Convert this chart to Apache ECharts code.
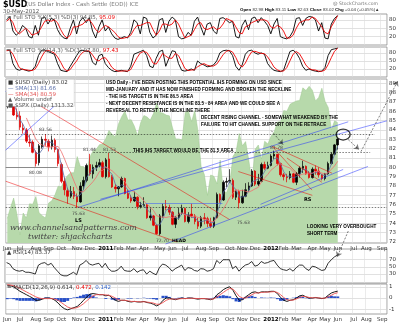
<!DOCTYPE html>
<html><head><meta charset="utf-8">
<script src="https://cdn.jsdelivr.net/npm/echarts@6/dist/echarts.min.js"></script>
<style>html,body{margin:0;padding:0;background:#fff}#c{width:400px;height:323px}</style>
</head><body><div id="c"></div>
<script>
// ---------- DATA (weekly, from week ending 2010-06-04) ----------
const usdOpen = [86.5,88.0,86.9,85.6,85.5,84.2,84.0,82.7,82.7,81.6,80.5,82.2,83.0,82.8,82.2,82.9,81.9,80.3,78.5,77.5,76.9,77.4,76.9,76.3,78.0,78.6,80.3,79.3,80.0,80.2,80.5,79.0,80.9,79.0,77.9,77.7,77.9,78.8,77.2,76.7,76.4,76.8,75.8,75.9,76.0,74.6,74.8,73.8,72.9,74.8,75.8,75.7,75.2,73.9,74.6,75.1,75.6,74.2,75.0,74.8,74.2,73.7,74.6,74.5,74.0,73.7,74.6,77.1,76.5,78.4,78.5,78.6,76.8,77.4,76.2,76.9,77.6,78.0,79.6,78.2,78.5,80.3,79.9,80.2,81.2,81.4,80.4,79.2,79.0,78.9,79.3,78.4,79.3,79.9,80.1,79.3,78.9,79.8,79.6,79.2,78.8,79.3,80.4,81.4,82.4];
const usdClose = [88.0,86.9,85.6,85.4,84.3,84.0,82.8,82.6,81.6,80.4,82.3,83.0,82.9,82.2,82.9,81.9,80.4,78.5,77.6,76.9,77.4,76.9,76.3,78.0,78.6,80.2,79.3,80.0,80.2,80.5,79.0,80.8,79.0,77.9,77.7,77.9,78.8,77.2,76.7,76.4,76.8,75.8,75.9,76.0,74.6,74.8,73.8,72.9,74.8,75.8,75.7,75.2,73.9,74.6,75.1,75.6,74.2,74.9,74.8,74.2,73.7,74.6,74.5,74.0,73.7,74.6,77.1,76.5,78.4,78.5,78.6,76.8,77.4,76.2,76.9,77.6,78.0,79.6,78.2,78.5,80.3,79.9,80.2,81.2,81.4,80.4,79.2,79.0,78.9,79.3,78.4,79.3,79.9,80.1,79.3,78.9,79.8,79.6,79.2,78.8,79.3,80.4,81.4,82.4,83.02];
const usdLow = [86.3,86.8,85.5,85.1,84.0,83.6,82.6,82.2,81.5,80.08,80.2,82.0,82.3,81.7,81.9,81.6,80.1,78.3,77.0,76.1,76.7,76.6,75.63,76.2,77.6,78.4,79.1,78.8,79.6,80.0,78.9,78.8,78.9,77.8,77.3,76.9,77.8,77.1,76.6,76.2,76.3,75.5,75.6,75.8,74.5,74.3,73.7,72.8,72.7,74.6,75.4,74.9,73.8,73.5,74.4,74.9,74.1,74.0,74.6,73.9,73.4,73.5,73.9,73.6,73.5,73.5,74.5,76.2,76.4,77.9,78.3,76.6,76.5,75.6,76.1,76.8,77.4,77.9,78.0,78.0,78.4,79.7,79.8,80.1,80.9,80.2,79.0,78.6,78.4,78.7,78.3,78.1,78.9,79.4,79.2,78.8,78.8,79.2,78.9,78.6,78.6,79.2,80.3,81.3,81.9];
const usdHigh = [88.2,88.7,87.3,86.3,86.0,84.7,84.2,83.5,82.9,81.8,82.5,83.3,83.56,83.0,83.4,83.1,82.0,80.5,78.9,77.8,78.0,77.9,77.2,78.4,79.0,80.4,81.44,80.3,80.6,80.9,80.7,81.0,81.53,79.2,78.2,78.0,79.0,78.9,77.6,77.0,77.4,76.9,76.3,76.8,76.1,75.6,74.9,73.9,75.0,76.1,76.5,76.0,75.3,74.8,75.7,76.0,75.7,75.2,76.1,75.0,74.6,74.8,75.1,74.7,74.6,74.7,77.3,77.2,78.6,78.9,79.8,78.8,77.6,77.6,77.6,78.3,78.4,79.8,79.7,79.3,80.5,80.6,80.6,81.4,81.78,81.4,80.5,79.4,79.3,79.6,79.4,79.5,80.1,80.7,80.2,79.6,80.0,80.2,80.0,79.3,79.4,80.6,81.6,82.5,83.11];
const spxClose = [1064,1092,1117,1076,1022,1078,1065,1102,1101,1121,1079,1071,1065,1104,1110,1125,1148,1146,1165,1176,1183,1183,1225,1199,1199,1189,1224,1240,1244,1256,1258,1272,1293,1283,1276,1310,1329,1343,1320,1321,1304,1279,1314,1332,1328,1320,1337,1364,1340,1338,1333,1331,1300,1271,1271,1268,1340,1344,1316,1345,1292,1199,1179,1124,1177,1174,1154,1216,1136,1131,1155,1225,1238,1285,1253,1264,1216,1159,1244,1255,1219,1265,1258,1278,1289,1315,1316,1345,1343,1361,1366,1370,1371,1404,1397,1408,1398,1370,1379,1403,1369,1353,1295,1318,1313];
const sto1K = [80,92,40,25,35,60,50,20,15,60,25,85,90,65,85,80,45,25,15,12,50,80,30,75,88,70,88,40,15,55,80,40,55,30,15,10,15,20,15,35,80,70,30,90,85,35,15,25,80,85,35,75,90,80,20,12,15,35,25,75,90,55,25,65,70,40,30,85,88,80,70,75,20,15,60,80,45,85,90,70,88,75,60,30,65,85,20,15,12,20,40,85,88,60,85,92,90,80,40,70,15,12,65,85,94.85];
const sto1D = [75,85,70,40,30,40,50,40,25,30,35,55,75,80,75,80,70,45,25,15,25,55,55,60,65,78,80,65,45,35,50,60,55,45,35,20,13,15,18,25,45,60,60,65,70,70,45,25,40,65,65,60,65,80,65,40,15,20,25,45,65,70,50,45,50,55,45,50,65,85,80,75,55,35,30,55,60,70,75,80,80,80,75,55,50,60,55,40,15,15,25,50,70,75,80,80,90,85,70,55,35,30,55,75,95.09];
const sto2K = [91,90,40,20,15,20,15,12,15,30,70,90,91,85,80,75,40,15,12,10,30,50,70,88,90,85,85,45,35,70,75,40,25,15,10,12,15,12,10,30,75,80,85,90,70,30,25,60,85,90,30,60,88,85,40,15,12,15,20,15,50,40,35,28,30,35,50,80,88,90,88,70,30,15,35,75,88,90,80,75,80,75,40,25,15,12,10,15,50,85,90,80,60,30,15,20,15,12,10,12,25,70,92,95,97.8];
const sto2D = [88,90,75,50,25,18,17,15,14,20,40,65,85,90,85,80,65,45,22,12,18,35,50,70,83,88,87,72,55,50,60,62,47,27,17,12,12,13,12,18,40,62,80,85,82,65,42,38,57,78,68,60,60,78,70,47,22,14,16,17,28,35,40,34,31,31,38,55,73,86,89,83,63,38,27,42,66,84,86,82,78,77,65,47,27,17,12,12,25,50,75,85,77,57,35,22,17,16,12,11,16,36,62,86,97.43];
const rsi14 = [62,58,45,40,38,40,35,35,33,30,55,60,62,55,60,48,38,28,25,25,30,35,28,55,60,68,58,55,58,60,48,60,45,38,38,42,52,40,38,38,45,35,40,42,30,38,32,28,48,58,55,48,38,45,50,55,40,48,46,40,38,45,44,38,40,45,68,60,70,70,70,45,52,38,48,55,58,65,52,55,65,60,62,66,68,55,45,42,40,45,38,48,55,55,45,40,52,50,45,40,42,60,70,78,83.37];
const macdLine = [1.1,1.1,1.0,0.8,0.6,0.45,0.3,0.15,0.0,-0.2,-0.2,-0.1,0.0,0.0,-0.05,-0.2,-0.45,-0.75,-0.95,-1.05,-0.95,-0.85,-0.75,-0.5,-0.2,0.1,0.35,0.4,0.35,0.3,0.3,0.2,0.25,0.0,-0.2,-0.3,-0.2,-0.2,-0.3,-0.35,-0.3,-0.35,-0.35,-0.3,-0.4,-0.45,-0.55,-0.7,-0.55,-0.2,0.0,0.0,-0.1,-0.15,-0.05,0.0,-0.05,0.0,0.0,-0.05,-0.1,-0.05,-0.05,-0.1,-0.15,-0.05,0.3,0.5,0.75,0.9,1.0,0.7,0.2,-0.2,-0.15,0.1,0.3,0.5,0.55,0.45,0.55,0.55,0.55,0.6,0.6,0.4,0.05,-0.2,-0.3,-0.2,-0.15,0.0,0.2,0.25,0.1,0.0,0.0,0.05,0.0,-0.05,0.0,0.25,0.45,0.55,0.614];
const macdSignal = [1.2,1.15,1.1,1.0,0.85,0.7,0.55,0.4,0.25,0.1,0.0,-0.05,-0.05,-0.05,-0.05,-0.1,-0.2,-0.4,-0.6,-0.8,-0.9,-0.9,-0.85,-0.7,-0.5,-0.25,0.0,0.2,0.3,0.3,0.3,0.28,0.25,0.15,0.0,-0.15,-0.2,-0.2,-0.25,-0.3,-0.3,-0.32,-0.34,-0.33,-0.36,-0.4,-0.45,-0.55,-0.55,-0.4,-0.2,-0.1,-0.08,-0.1,-0.08,-0.05,-0.05,-0.03,-0.02,-0.03,-0.05,-0.05,-0.05,-0.07,-0.1,-0.08,0.1,0.3,0.5,0.7,0.85,0.8,0.5,0.15,0.0,0.0,0.15,0.3,0.45,0.45,0.5,0.52,0.53,0.55,0.57,0.5,0.3,0.05,-0.15,-0.2,-0.18,-0.08,0.05,0.15,0.12,0.05,0.02,0.03,0.01,-0.02,-0.01,0.1,0.25,0.4,0.472];
const priceTicks = [72,73,74,75,76,77,78,79,80,81,82,83,84,85,86,87,88,89];
const stoTicks = [20,50,80];
const rsiTicks = [30,50,70];
const macdTicks = [-1,0,1];
const monthNames = ['Jan','Feb','Mar','Apr','May','Jun','Jul','Aug','Sep','Oct','Nov','Dec'];
// trend lines in (week index, price)
const redLines = [[2.0,88.28,70.0,74.4],[-0.5,78.51,53.5,72.0],[83.4,82.24,102.2,79.37],[83.4,82.24,95.9,77.56],[72.7,79.55,96.0,77.0],[88.0,81.0,99.0,78.4]];
const blueLines = [[-0.5,81.84,15.2,86.68],[-0.5,88.07,1.4,88.92],[22.4,75.72,107.3,84.87],[29.3,76.58,119.5,84.98],[49.8,71.79,113.5,80.09],[79.7,76.04,105.7,79.77]];
const blueHoriz = [[43.5,67.7,76.15]];
const blackHoriz = [[-0.5,15.8,79.98]];
const dottedHoriz = [[-0.5,115.7,83.54],[27.1,114.2,81.58],[-0.5,119.5,75.72]];
const arrows = [[107.3,82.96,110.7,81.9],[111.3,81.68,122.9,89.24],[83.1,83.92,86.8,82.43],[107.3,73.17,103.8,70.4]];
const circlePt = [[105.7,83.5]];

// ---------- BUILD ----------
const N = 120;
const t0 = Date.UTC(2010,5,4);
const dates = []; for (let i=0;i<N;i++) dates.push(new Date(t0 + i*7*864e5));
const cats = dates.map(d=>d.toISOString().slice(0,10));
const isMS = i => dates[i].getUTCDate() <= 7;
const lbl = i => dates[i].getUTCMonth()===0 ? '{b|'+dates[i].getUTCFullYear()+'}' : monthNames[dates[i].getUTCMonth()];
function sma(arr,n){return arr.map((v,i)=>{if(i<n-1)return '-';let s=0;for(let k=i-n+1;k<=i;k++)s+=arr[k];return +(s/n).toFixed(3);});}
const F = 'DejaVu Sans';
const gridDefs = [{top:14,height:31},{top:47,height:30},{top:79,height:164},{top:249,height:34},{top:284,height:32}];
const grids = gridDefs.map(g=>({left:5,right:13,top:g.top,height:g.height,show:true,borderColor:'#888',borderWidth:0.8,backgroundColor:'#fff'}));
function catAxis(gi,showLabels){return {type:'category',gridIndex:gi,data:cats,boundaryGap:true,
  axisLine:{show:false},axisTick:{show:false},
  axisLabel:{show:showLabels,interval:(i)=>isMS(i),formatter:(v,i)=>lbl(i),fontSize:5.5,fontFamily:F,color:'#333',margin:3,rich:{b:{fontWeight:'bold',fontSize:5.5,fontFamily:F,color:'#000'}}},
  splitLine:{show:true,interval:(i)=>isMS(i),lineStyle:{color:'#ddd',width:0.6}}};}
function valAxis(gi,min,max,ticks,extra){return Object.assign({type:'value',gridIndex:gi,position:'right',min:min,max:max,
  axisLine:{show:false},axisTick:{show:false,customValues:ticks},
  axisLabel:{customValues:ticks,fontSize:5.5,fontFamily:F,color:'#333',margin:2},
  splitLine:{show:true,lineStyle:{color:'#ccc',width:0.6}}},extra||{});}
const xAxes=[catAxis(0,false),catAxis(1,false),catAxis(2,true),catAxis(3,false),catAxis(4,true),
  {type:'value',gridIndex:2,min:-0.5,max:N-0.5,show:false}];
const yAxes=[valAxis(0,-10,101,stoTicks),valAxis(1,-10,102,stoTicks),valAxis(2,71.9,89.45,priceTicks),
  valAxis(3,5,100,rsiTicks),valAxis(4,-1.42,1.25,macdTicks),
  {type:'value',gridIndex:2,min:1000,max:1427,show:false}];
const candle = usdOpen.map((o,i)=>[o,usdClose[i],usdLow[i],usdHigh[i]]);
const annLines=[];
redLines.forEach(l=>annLines.push({coords:[[l[0],l[1]],[l[2],l[3]]],lineStyle:{color:'#e00',width:1,type:'solid'}}));
blueLines.forEach(l=>annLines.push({coords:[[l[0],l[1]],[l[2],l[3]]],lineStyle:{color:'#2030ff',width:1,type:'solid'}}));
blueHoriz.forEach(l=>annLines.push({coords:[[l[0],l[2]],[l[1],l[2]]],lineStyle:{color:'#3050ff',width:1.2,type:'solid'}}));
blackHoriz.forEach(l=>annLines.push({coords:[[l[0],l[2]],[l[1],l[2]]],lineStyle:{color:'#333',width:1,type:'solid'}}));
dottedHoriz.forEach(l=>annLines.push({coords:[[l[0],l[2]],[l[1],l[2]]],lineStyle:{color:'#000',width:1,type:[1.5,1.5]}}));
const arrowData = arrows.map(l=>({coords:[[l[0],l[1]],[l[2],l[3]]]}));
const series=[
 {type:'line',xAxisIndex:2,yAxisIndex:5,data:spxClose,symbol:'none',lineStyle:{color:'#9cc98e',width:0.5},areaStyle:{color:'#b7d9ab',opacity:1},z:1,silent:true},
 {type:'candlestick',xAxisIndex:2,yAxisIndex:2,data:candle,barWidth:2,itemStyle:{color:'#000',color0:'#e00000',borderColor:'#000',borderColor0:'#e00000',borderWidth:0.7},z:3},
 {type:'line',xAxisIndex:2,yAxisIndex:2,data:sma(usdClose,3),symbol:'none',lineStyle:{color:'#5a6ea8',width:0.8},z:4},
 {type:'line',xAxisIndex:2,yAxisIndex:2,data:sma(usdClose,7),symbol:'none',lineStyle:{color:'#f07070',width:0.8},z:4},
 {type:'lines',coordinateSystem:'cartesian2d',xAxisIndex:5,yAxisIndex:2,clip:false,data:annLines,z:5,symbol:'none'},
 {type:'lines',coordinateSystem:'cartesian2d',xAxisIndex:5,yAxisIndex:2,clip:false,data:arrowData,z:6,symbol:['none','arrow'],symbolSize:5,lineStyle:{color:'#000',width:1,type:[2,1.5]}},
 {type:'scatter',xAxisIndex:5,yAxisIndex:2,data:circlePt,symbol:'circle',symbolSize:[14,11],itemStyle:{color:'rgba(0,0,0,0)',borderColor:'#000',borderWidth:1.2},z:7,clip:false},
 {type:'line',xAxisIndex:0,yAxisIndex:0,data:sto1K,symbol:'none',lineStyle:{color:'#000',width:0.9}},
 {type:'line',xAxisIndex:0,yAxisIndex:0,data:sto1D,symbol:'none',lineStyle:{color:'#e00',width:0.9}},
 {type:'line',xAxisIndex:1,yAxisIndex:1,data:sto2K,symbol:'none',lineStyle:{color:'#000',width:0.9}},
 {type:'line',xAxisIndex:1,yAxisIndex:1,data:sto2D,symbol:'none',lineStyle:{color:'#e00',width:0.9}},
 {type:'line',xAxisIndex:3,yAxisIndex:3,data:rsi14,symbol:'none',lineStyle:{color:'#000',width:0.8}},
 {type:'bar',xAxisIndex:4,yAxisIndex:4,data:macdLine.map((v,i)=>+(v-macdSignal[i]).toFixed(3)),itemStyle:{color:'#2850c8'},barWidth:3,barGap:'-100%'},
 {type:'line',xAxisIndex:4,yAxisIndex:4,data:macdLine,symbol:'none',lineStyle:{color:'#000',width:0.9}},
 {type:'line',xAxisIndex:4,yAxisIndex:4,data:macdSignal,symbol:'none',lineStyle:{color:'#f05050',width:0.9}}
];
const T=(x,y,text,st)=>({type:'text',left:x,top:y,z:100,style:Object.assign({text:text,fontSize:5.5,fontFamily:F,fill:'#333'},st||{})});
const B=(x,y,text)=>T(x,y,text,{fontSize:4.6,fontWeight:'bold',fill:'#000',fontFamily:'Liberation Sans'});
const graphic=[
 T(3,1,'$USD',{fontSize:8,fontWeight:'bold',fill:'#000'}),
 T(26,2,'(US Dollar Index - Cash Settle (EOD)) ICE',{fill:'#777'}),
 T(3,9,'30-May-2012',{fill:'#555'}),
 T(333,1,'@ StockCharts.com',{fill:'#777',fontSize:4.6}),
 T(240,8,'{b|Open} 82.98 {b|High} 83.11 {b|Low} 82.63 {b|Close} 83.02 {b|Chg} +0.04 (+0.05%)▲',{fontSize:4.4,fontFamily:'Liberation Sans',rich:{b:{fontWeight:'bold',fontSize:4.4,fill:'#000',fontFamily:'Liberation Sans'}}}),
 T(7,15,'= Full STO %K(5,3) %D(3) 94.85, {r|95.09}',{fill:'#555',rich:{r:{fill:'#e00',fontSize:5.5,fontFamily:F}}}),
 T(7,48,'= Full STO %K(14,3) %D(3) 97.80, {r|97.43}',{fill:'#555',rich:{r:{fill:'#e00',fontSize:5.5,fontFamily:F}}}),
 {type:'rect',left:6,top:79,z:99,shape:{width:68,height:27},style:{fill:'#fff',stroke:'#bbb',lineWidth:0.5}},
 T(8,80,'■ $USD (Daily) 83.02',{fill:'#333'}),
 T(8,86,'— SMA(13) 81.66',{fill:'#5a6ea8'}),
 T(8,91.5,'— SMA(34) 80.59',{fill:'#e05050'}),
 T(8,97,'▲ Volume undef',{fill:'#555'}),
 T(8,102.5,'■ $SPX (Daily) 1313.32',{fill:'#555'}),
 B(106,80,"USD Daily - I'VE BEEN POSTING THIS POTENTIAL IHS FORMING ON USD SINCE"),
 B(106,87,'MID-JANUARY AND IT HAS NOW FINISHED FORMING AND BROKEN THE NECKLINE'),
 B(106,94,'- THE IHS TARGET IS IN THE 86.5 AREA'),
 B(106,101,'- NEXT DECENT RESISTANCE IS IN THE 83.5 - 84 AREA AND WE COULD SEE A'),
 B(106,108,'REVERSAL TO RETEST THE NECKLINE THERE'),
 B(201,115,'DECENT RISING CHANNEL - SOMEWHAT WEAKENED BY THE'),
 B(201,122,'FAILURE TO HIT CHANNEL SUPPORT ON THE RETRACE'),
 B(133,148,'THIS IHS TARGET WOULD BE THE 81.5 AREA'),
 B(307,224,'LOOKING VERY OVERBOUGHT'),
 B(307,231,'SHORT TERM'),
 T(10,224,'www.channelsandpatterns.com',{fontFamily:'DejaVu Serif',fontStyle:'italic',fontSize:8,fill:'#444'}),
 T(28,233,'twitter: shjackcharts',{fontFamily:'DejaVu Serif',fontStyle:'italic',fontSize:8,fill:'#444'}),
 T(39,127,'83.56',{fontSize:4.5,fill:'#444'}),
 T(29,170,'80.08',{fontSize:4.5,fill:'#444'}),
 T(83,147,'81.44',{fontSize:4.5,fill:'#444'}),
 T(103,147,'81.53',{fontSize:4.5,fill:'#444'}),
 T(72,211,'75.63',{fontSize:4.5,fill:'#444'}),
 T(75,218,'LS',{fontSize:5,fill:'#000',fontWeight:'bold'}),
 T(156,238,'72.70',{fontSize:4.5,fill:'#444'}),
 T(172,238,'HEAD',{fontSize:4.5,fill:'#000',fontWeight:'bold'}),
 T(237,220,'75.63',{fontSize:4.5,fill:'#444'}),
 T(304,197,'RS',{fontSize:5,fill:'#000',fontWeight:'bold'}),
 T(270,145,'81.78',{fontSize:4.5,fill:'#444'}),
 T(7,250,'▲ RSI(14) 83.37',{fill:'#333'}),
 T(7,285,'= MACD(12,26,9) 0.614, {r|0.472}, {bl|0.142}',{fill:'#333',rich:{r:{fill:'#e00',fontSize:5.5,fontFamily:F},bl:{fill:'#36c',fontSize:5.5,fontFamily:F}}})
];
const chart = echarts.init(document.getElementById('c'),null,{renderer:'canvas'});
chart.setOption({animation:false,backgroundColor:'#fff',grid:grids,xAxis:xAxes,yAxis:yAxes,series:series,graphic:graphic});
</script></body></html>
